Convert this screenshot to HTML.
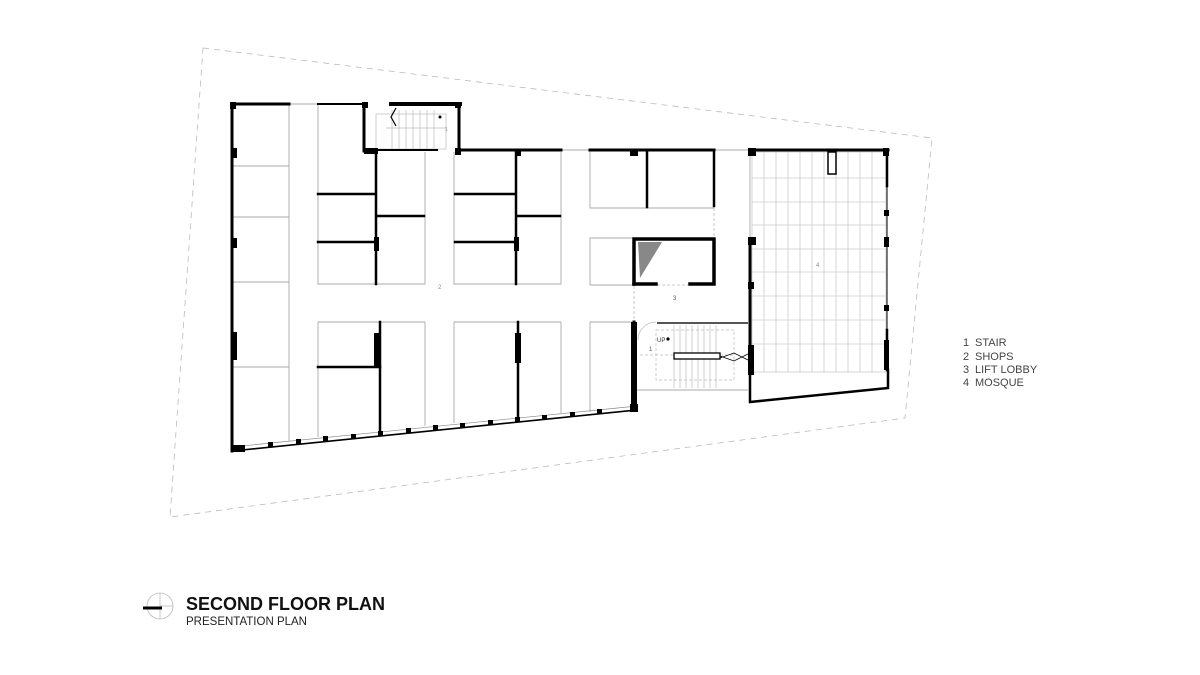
<!DOCTYPE html>
<html><head><meta charset="utf-8"><style>
html,body{margin:0;padding:0;background:#fff;}
svg{display:block;}
text{font-family:"Liberation Sans",Arial,sans-serif;}
</style></head><body>
<svg width="1200" height="675" viewBox="0 0 1200 675" xmlns="http://www.w3.org/2000/svg">
<!-- site boundary -->
<polygon points="203,48 932,138 905,418 170,517" fill="none" stroke="#bbb" stroke-width="0.8" stroke-dasharray="6,5"/>

<!-- mosque grid -->
<g stroke="#ccc" stroke-width="0.8">
<rect x="752" y="152" width="134" height="220" fill="none"/>
<line x1="764" y1="152" x2="764" y2="372"/><line x1="776" y1="152" x2="776" y2="372"/>
<line x1="788" y1="152" x2="788" y2="372"/><line x1="800" y1="152" x2="800" y2="372"/>
<line x1="812" y1="152" x2="812" y2="372"/><line x1="824" y1="152" x2="824" y2="372"/>
<line x1="836" y1="152" x2="836" y2="372"/><line x1="848" y1="152" x2="848" y2="372"/>
<line x1="860" y1="152" x2="860" y2="372"/><line x1="872" y1="152" x2="872" y2="372"/>
<line x1="752" y1="178" x2="886" y2="178"/><line x1="752" y1="202" x2="886" y2="202"/>
<line x1="752" y1="225" x2="886" y2="225"/><line x1="752" y1="249" x2="886" y2="249"/>
<line x1="752" y1="272" x2="886" y2="272"/><line x1="752" y1="296" x2="886" y2="296"/>
<line x1="752" y1="320" x2="886" y2="320"/><line x1="752" y1="344" x2="886" y2="344"/>
</g>

<!-- gray thin lines (shop outlines) -->
<g stroke="#aaa" stroke-width="0.9" fill="none">
<line x1="289" y1="104" x2="289" y2="441"/>
<line x1="232" y1="166" x2="289" y2="166"/><line x1="232" y1="217" x2="289" y2="217"/>
<line x1="232" y1="282" x2="289" y2="282"/><line x1="232" y1="367" x2="289" y2="367"/>
<line x1="289" y1="104" x2="318" y2="104"/>
<polyline points="318,104 318,284 425,284 425,152"/>
<polyline points="454,152 454,284 561,284 561,152"/>
<polyline points="590,150 590,208 714,208"/>
<polyline points="634,238 590,238 590,285 634,285"/>
<line x1="318" y1="322" x2="318" y2="437"/><line x1="318" y1="322" x2="425" y2="322"/>
<line x1="425" y1="322" x2="425" y2="426"/>
<line x1="454" y1="322" x2="561" y2="322"/><line x1="454" y1="322" x2="454" y2="423"/>
<line x1="561" y1="322" x2="561" y2="413"/>
<line x1="590" y1="322" x2="634" y2="322"/><line x1="590" y1="322" x2="590" y2="412"/>
<line x1="561" y1="150" x2="590" y2="150"/>
<line x1="714" y1="150" x2="750" y2="150"/>
<line x1="750" y1="150" x2="750" y2="402"/>
<line x1="637" y1="390" x2="748" y2="390"/>
</g>
<g stroke="#bbb" stroke-width="0.8" stroke-dasharray="3,2" fill="none">
<line x1="714" y1="208" x2="714" y2="238"/>
<line x1="634" y1="286" x2="634" y2="322"/>
<line x1="657" y1="285" x2="690" y2="285"/>
</g>

<!-- stair 1 (top) -->
<g stroke="#bbb" stroke-width="0.7" fill="none">
<rect x="376" y="114" width="70" height="35"/>
<line x1="386" y1="128" x2="446" y2="128"/>
<line x1="392" y1="110" x2="392" y2="149"/><line x1="399" y1="110" x2="399" y2="149"/>
<line x1="406" y1="110" x2="406" y2="149"/><line x1="413" y1="110" x2="413" y2="149"/>
<line x1="420" y1="110" x2="420" y2="149"/><line x1="427" y1="110" x2="427" y2="149"/>
<line x1="434" y1="110" x2="434" y2="149"/>
</g>
<polyline points="396,108 391,117 396,126" stroke="#000" stroke-width="1.2" fill="none"/>
<circle cx="440" cy="117" r="1.5" fill="#000"/>
<text x="445" y="131" font-size="5" fill="#888">1</text>

<!-- stair (middle) -->
<g stroke="#bbb" stroke-width="0.7" fill="none">
<rect x="656" y="330" width="78" height="50" stroke-dasharray="3,2"/>
<line x1="640" y1="355" x2="735" y2="355" stroke-dasharray="3,2"/>
<line x1="674" y1="325" x2="674" y2="388"/><line x1="680" y1="325" x2="680" y2="388"/>
<line x1="686" y1="325" x2="686" y2="388"/><line x1="692" y1="325" x2="692" y2="388"/>
<line x1="698" y1="325" x2="698" y2="388"/><line x1="704" y1="325" x2="704" y2="388"/>
<line x1="710" y1="325" x2="710" y2="388"/><line x1="716" y1="325" x2="716" y2="388"/>
<path d="M638,340 A18,18 0 0 1 656,322"/>
</g>
<rect x="674" y="353" width="46" height="6" fill="#fff" stroke="#000" stroke-width="1.3"/>
<polyline points="720,356 734,361 748,354" stroke="#000" stroke-width="0.8" fill="none"/>
<polyline points="720,358 734,353 748,360" stroke="#000" stroke-width="0.8" fill="none"/>
<line x1="657" y1="323" x2="748" y2="323" stroke="#555" stroke-width="2"/>
<circle cx="668" cy="339" r="1.6" fill="#000"/>
<text x="657" y="342" font-size="6" fill="#333">UP</text>
<text x="649" y="351" font-size="6" fill="#555">1</text>

<!-- black walls -->
<g stroke="#000" stroke-linecap="square" fill="none">
<line x1="232" y1="104" x2="289" y2="104" stroke-width="3"/>
<line x1="318" y1="104" x2="364" y2="104" stroke-width="2"/>
<line x1="391" y1="104" x2="460" y2="104" stroke-width="4"/>
<line x1="364" y1="104" x2="364" y2="151" stroke-width="3"/>
<line x1="459" y1="104" x2="459" y2="150" stroke-width="3"/>
<line x1="364" y1="150" x2="437" y2="150" stroke-width="2"/>
<line x1="459" y1="150" x2="561" y2="150" stroke-width="3"/>
<line x1="590" y1="150" x2="714" y2="150" stroke-width="3"/>
<line x1="750" y1="150" x2="888" y2="150" stroke-width="3"/>
<line x1="232" y1="104" x2="232" y2="451" stroke-width="3"/>
<line x1="232" y1="451" x2="637" y2="410" stroke-width="1.6"/>
<line x1="232" y1="447" x2="637" y2="406" stroke="#888" stroke-width="0.7"/>
<!-- block 2 -->
<line x1="376" y1="152" x2="376" y2="284" stroke-width="2.5"/>
<line x1="318" y1="194" x2="374" y2="194" stroke-width="2.5"/>
<line x1="318" y1="242" x2="374" y2="242" stroke-width="2.5"/>
<line x1="378" y1="216" x2="424" y2="216" stroke-width="2.5"/>
<!-- block 3 -->
<line x1="516" y1="152" x2="516" y2="284" stroke-width="2.5"/>
<line x1="455" y1="194" x2="514" y2="194" stroke-width="2.5"/>
<line x1="455" y1="242" x2="514" y2="242" stroke-width="2.5"/>
<line x1="518" y1="216" x2="560" y2="216" stroke-width="2.5"/>
<!-- block 5 -->
<line x1="647" y1="152" x2="647" y2="207" stroke-width="2.5"/>
<line x1="714" y1="150" x2="714" y2="206" stroke-width="2.5"/>
<!-- lift -->
<polyline points="634,284 634,239 714,239 714,284 690,284" stroke-width="3.5"/>
<line x1="634" y1="284" x2="656" y2="284" stroke-width="3.5"/>
<!-- bottom blocks -->
<line x1="380" y1="322" x2="380" y2="431" stroke-width="2.5"/>
<line x1="318" y1="367" x2="380" y2="367" stroke-width="2.5"/>
<line x1="518" y1="322" x2="518" y2="418" stroke-width="2.5"/>
<line x1="634" y1="322" x2="634" y2="410" stroke-width="3"/>
<!-- mosque -->
<line x1="750" y1="240" x2="750" y2="370" stroke-width="3"/>
<polyline points="750,370 750,402 888,388 888,370" stroke-width="2.5"/>
<line x1="887" y1="150" x2="887" y2="186" stroke-width="2.5"/>
<line x1="887" y1="330" x2="887" y2="370" stroke-width="2.5"/>
<line x1="887" y1="186" x2="887" y2="330" stroke-width="1"/>
</g>
<rect x="828" y="152" width="8" height="22" fill="#fff" stroke="#000" stroke-width="1.5"/>
<polygon points="638,242 662,242 640,278" fill="#888"/>
<!-- columns -->
<g fill="#000">
<rect x="230" y="102" width="6" height="7"/><rect x="231" y="148" width="6" height="10"/>
<rect x="231" y="238" width="6" height="10"/><rect x="231" y="332" width="6" height="28"/>
<rect x="231" y="445" width="14" height="7"/>
<rect x="362" y="102" width="6" height="6"/><rect x="364" y="148" width="14" height="6"/>
<rect x="455" y="102" width="6" height="6"/><rect x="455" y="148" width="6" height="7"/>
<rect x="374" y="237" width="5" height="14"/><rect x="514" y="237" width="5" height="14"/>
<rect x="374" y="333" width="6" height="34"/><rect x="515" y="333" width="6" height="30"/>
<rect x="515" y="150" width="6" height="6"/><rect x="630" y="150" width="8" height="6"/>
<rect x="631" y="322" width="6" height="88"/><rect x="630" y="404" width="8" height="8"/>
<rect x="748" y="148" width="8" height="8"/><rect x="748" y="237" width="8" height="8"/>
<rect x="748" y="282" width="6" height="7"/><rect x="748" y="345" width="6" height="30"/>
<rect x="883" y="148" width="6" height="8"/><rect x="884" y="210" width="5" height="6"/>
<rect x="884" y="237" width="5" height="10"/><rect x="884" y="305" width="5" height="6"/>
<rect x="884" y="340" width="5" height="30"/>
<rect x="268" y="442" width="5" height="5"/><rect x="296" y="439" width="5" height="5"/>
<rect x="323" y="436" width="5" height="5"/><rect x="351" y="434" width="5" height="5"/>
<rect x="378" y="431" width="5" height="5"/><rect x="406" y="428" width="5" height="5"/>
<rect x="433" y="425" width="5" height="5"/><rect x="460" y="423" width="5" height="5"/>
<rect x="488" y="420" width="5" height="5"/><rect x="515" y="417" width="5" height="5"/>
<rect x="542" y="415" width="5" height="5"/><rect x="570" y="412" width="5" height="5"/>
<rect x="597" y="409" width="5" height="5"/>
</g>

<!-- room numbers -->
<text x="438" y="289" font-size="6" fill="#888">2</text>
<text x="673" y="300" font-size="6" fill="#555">3</text>
<text x="816" y="267" font-size="6" fill="#888">4</text>

<!-- legend -->
<g font-size="11" fill="#444">
<text x="963" y="346">1</text><text x="975" y="346">STAIR</text>
<text x="963" y="360">2</text><text x="975" y="360">SHOPS</text>
<text x="963" y="373">3</text><text x="975" y="373">LIFT LOBBY</text>
<text x="963" y="386">4</text><text x="975" y="386">MOSQUE</text>
</g>

<!-- title -->
<circle cx="160" cy="606" r="13" fill="none" stroke="#bbb" stroke-width="0.8"/>
<line x1="160" y1="593" x2="160" y2="619" stroke="#bbb" stroke-width="0.8"/>
<line x1="160" y1="606" x2="173" y2="606" stroke="#bbb" stroke-width="0.8"/>
<line x1="143" y1="608" x2="162" y2="608" stroke="#000" stroke-width="3"/>
<text x="186" y="610" font-size="18" font-weight="bold" fill="#111">SECOND FLOOR PLAN</text>
<text x="186" y="625" font-size="11.5" fill="#222">PRESENTATION PLAN</text>
</svg>
</body></html>
